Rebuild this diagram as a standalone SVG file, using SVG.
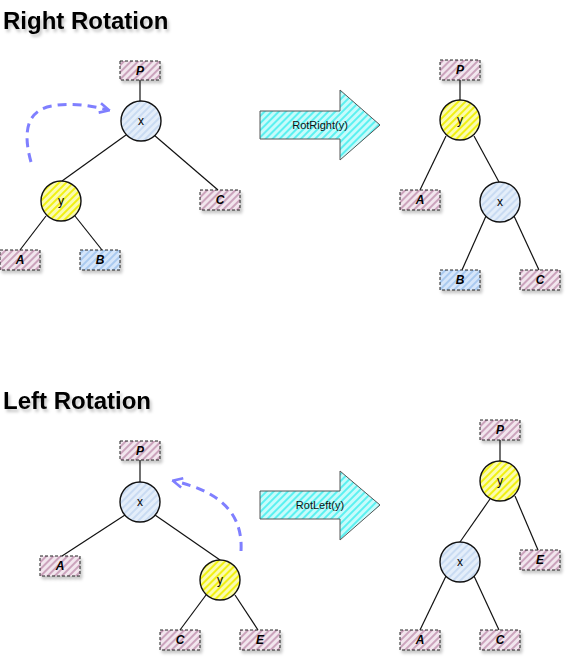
<svg xmlns="http://www.w3.org/2000/svg" width="572" height="662" viewBox="0 0 572 662">
<defs>
<pattern id="hPink" width="5" height="5" patternUnits="userSpaceOnUse" patternTransform="rotate(45)"><rect width="5" height="5" fill="#f2e6ee"/><line x1="1" y1="0" x2="1" y2="5" stroke="#c598b4" stroke-width="1.7"/></pattern>
<pattern id="hBlue" width="5" height="5" patternUnits="userSpaceOnUse" patternTransform="rotate(45)"><rect width="5" height="5" fill="#e4eefa"/><line x1="1" y1="0" x2="1" y2="5" stroke="#c3d7f0" stroke-width="1.6"/></pattern>
<pattern id="hBlueB" width="5" height="5" patternUnits="userSpaceOnUse" patternTransform="rotate(45)"><rect width="5" height="5" fill="#d6e6fa"/><line x1="1" y1="0" x2="1" y2="5" stroke="#9fc3ee" stroke-width="1.6"/></pattern>
<pattern id="hYellow" width="5" height="5" patternUnits="userSpaceOnUse" patternTransform="rotate(45)"><rect width="5" height="5" fill="#fbfbb0"/><line x1="1" y1="0" x2="1" y2="5" stroke="#f0f000" stroke-width="1.8"/></pattern>
<pattern id="hCyan" width="5" height="5" patternUnits="userSpaceOnUse" patternTransform="rotate(45)"><rect width="5" height="5" fill="#c8fbfb"/><line x1="1" y1="0" x2="1" y2="5" stroke="#4ff0f0" stroke-width="1.8"/></pattern>
<filter id="sh" x="-20%" y="-20%" width="150%" height="160%"><feDropShadow dx="2" dy="3" stdDeviation="1.5" flood-color="#000" flood-opacity="0.22"/></filter>
<marker id="ah" viewBox="0 0 10 10" refX="8" refY="5" markerWidth="4" markerHeight="4" orient="auto"><path d="M1,1 L9,5 L1,9" fill="none" stroke="#7f7fff" stroke-width="2.2"/></marker>
</defs>
<style>
.title{font-family:"Liberation Sans",Arial,sans-serif;font-weight:bold;font-size:24px;fill:#000}
.box{stroke:#222;stroke-width:1;stroke-dasharray:3 2;fill:url(#hPink)}
.boxB{stroke:#222;stroke-width:1;stroke-dasharray:3 2;fill:url(#hBlueB)}
.cx{stroke:#111;stroke-width:1.4;fill:url(#hBlue)}
.cy{stroke:#111;stroke-width:1.4;fill:url(#hYellow)}
.bl{font-family:"Liberation Sans",Arial,sans-serif;font-weight:bold;font-style:italic;font-size:12px;fill:#000;text-anchor:middle}
.cl{font-family:"Liberation Sans",Arial,sans-serif;font-size:12px;fill:#000;text-anchor:middle}
.arr{fill:url(#hCyan);stroke:#555;stroke-width:1}
.al{font-family:"Liberation Sans",Arial,sans-serif;font-size:11px;fill:#111;text-anchor:middle}
.edge{stroke:#111;stroke-width:1.2;fill:none}
.curve{stroke:#7f7fff;stroke-width:3;stroke-dasharray:9 6;fill:none;marker-end:url(#ah)}
</style>

<text class="title" x="3" y="29" filter="url(#sh)">Right Rotation</text>
<text class="title" x="3" y="409" filter="url(#sh)">Left Rotation</text>

<g id="connectors">
<line class="edge" x1="140" y1="80" x2="140" y2="101"/>
<line class="edge" x1="126" y1="135" x2="62" y2="181"/>
<line class="edge" x1="154" y1="135" x2="218" y2="190"/>
<line class="edge" x1="46" y1="216" x2="20" y2="250"/>
<line class="edge" x1="75" y1="216" x2="102" y2="250"/>
<path class="curve" d="M31,162 C22,130 28,110 52,106 C72,102 92,106 108,110"/>
<line class="edge" x1="460" y1="80" x2="460" y2="100"/>
<line class="edge" x1="446" y1="136" x2="420" y2="190"/>
<line class="edge" x1="474" y1="136" x2="499" y2="182"/>
<line class="edge" x1="486" y1="216" x2="462" y2="270"/>
<line class="edge" x1="514" y1="216" x2="539" y2="270"/>

<line class="edge" x1="140" y1="460" x2="140" y2="482"/>
<line class="edge" x1="125" y1="515" x2="62" y2="556"/>
<line class="edge" x1="155" y1="515" x2="220" y2="560"/>
<line class="edge" x1="206" y1="595" x2="180" y2="630"/>
<line class="edge" x1="235" y1="595" x2="258" y2="630"/>
<path class="curve" d="M241,551 C243,515 222,492 174,481"/>
<line class="edge" x1="500" y1="440" x2="500" y2="461"/>
<line class="edge" x1="490" y1="499" x2="460" y2="542"/>
<line class="edge" x1="515" y1="496" x2="538" y2="550"/>
<line class="edge" x1="446" y1="576" x2="420" y2="630"/>
<line class="edge" x1="474" y1="576" x2="499" y2="630"/>
</g>

<g id="r-P"><rect class="box" x="120" y="61" width="40" height="19" filter="url(#sh)"/><text class="bl" x="140" y="75">P</text></g>
<g id="r-x"><circle class="cx" cx="141" cy="121" r="20"/><text class="cl" x="141" y="125">x</text></g>
<g id="r-y"><circle class="cy" cx="61" cy="201" r="20"/><text class="cl" x="61" y="205">y</text></g>
<g id="r-C"><rect class="box" x="200" y="190" width="40" height="20" filter="url(#sh)"/><text class="bl" x="220" y="204">C</text></g>
<g id="r-A"><rect class="box" x="0" y="250" width="40" height="20" filter="url(#sh)"/><text class="bl" x="20" y="264">A</text></g>
<g id="r-B"><rect class="boxB" x="80" y="250" width="40" height="20" filter="url(#sh)"/><text class="bl" x="100" y="264">B</text></g>

<g id="rotright"><path class="arr" d="M260,111 L340,111 L340,90 L380,125 L340,160 L340,139 L260,139 Z"/><text class="al" x="320" y="129">RotRight(y)</text></g>

<g id="r2-P"><rect class="box" x="440" y="60" width="40" height="20" filter="url(#sh)"/><text class="bl" x="460" y="74">P</text></g>
<g id="r2-y"><circle class="cy" cx="460" cy="120" r="20"/><text class="cl" x="460" y="124">y</text></g>
<g id="r2-A"><rect class="box" x="400" y="190" width="40" height="20" filter="url(#sh)"/><text class="bl" x="420" y="204">A</text></g>
<g id="r2-x"><circle class="cx" cx="500" cy="202" r="20"/><text class="cl" x="500" y="206">x</text></g>
<g id="r2-B"><rect class="boxB" x="440" y="270" width="40" height="20" filter="url(#sh)"/><text class="bl" x="460" y="284">B</text></g>
<g id="r2-C"><rect class="box" x="520" y="270" width="40" height="20" filter="url(#sh)"/><text class="bl" x="540" y="284">C</text></g>

<g id="l-P"><rect class="box" x="120" y="441" width="40" height="19" filter="url(#sh)"/><text class="bl" x="140" y="455">P</text></g>
<g id="l-x"><circle class="cx" cx="140" cy="502" r="20"/><text class="cl" x="140" y="506">x</text></g>
<g id="l-A"><rect class="box" x="40" y="556" width="40" height="20" filter="url(#sh)"/><text class="bl" x="60" y="570">A</text></g>
<g id="l-y"><circle class="cy" cx="220" cy="580" r="20"/><text class="cl" x="220" y="584">y</text></g>
<g id="l-C"><rect class="box" x="160" y="630" width="40" height="20" filter="url(#sh)"/><text class="bl" x="180" y="644">C</text></g>
<g id="l-E"><rect class="box" x="240" y="630" width="40" height="20" filter="url(#sh)"/><text class="bl" x="260" y="644">E</text></g>

<g id="rotleft"><path class="arr" d="M260,491 L340,491 L340,471 L380,505 L340,540 L340,519 L260,519 Z"/><text class="al" x="320" y="509">RotLeft(y)</text></g>

<g id="l2-P"><rect class="box" x="480" y="420" width="40" height="20" filter="url(#sh)"/><text class="bl" x="500" y="434">P</text></g>
<g id="l2-y"><circle class="cy" cx="500" cy="481" r="20"/><text class="cl" x="500" y="485">y</text></g>
<g id="l2-x"><circle class="cx" cx="460" cy="562" r="20"/><text class="cl" x="460" y="566">x</text></g>
<g id="l2-E"><rect class="box" x="520" y="550" width="40" height="20" filter="url(#sh)"/><text class="bl" x="540" y="564">E</text></g>
<g id="l2-A"><rect class="box" x="400" y="630" width="40" height="20" filter="url(#sh)"/><text class="bl" x="420" y="644">A</text></g>
<g id="l2-C"><rect class="box" x="480" y="630" width="40" height="20" filter="url(#sh)"/><text class="bl" x="500" y="644">C</text></g>
</svg>
